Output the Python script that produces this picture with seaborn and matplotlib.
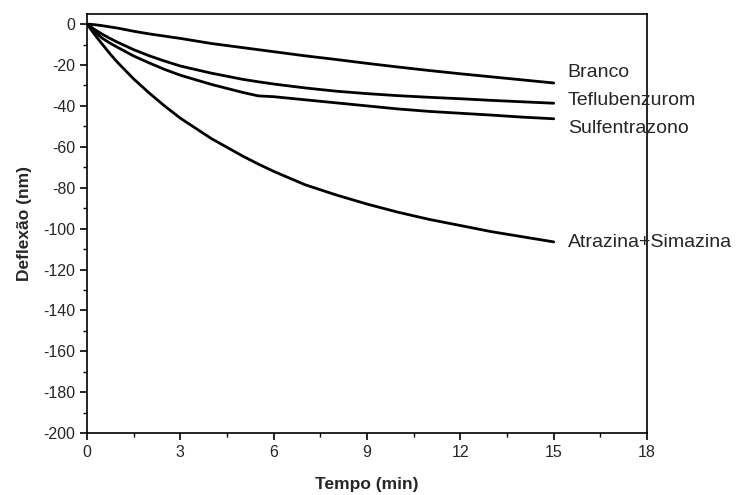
import pandas as pd
import numpy as np
from matplotlib import pyplot as plt
from matplotlib.ticker import MultipleLocator
import seaborn as sns

# values
tempo = [0, 0.25, 0.5, 0.75, 1, 1.5, 2, 2.5, 3, 4, 5, 5.5, 6, 7, 8, 9, 10, 11, 12, 13, 14, 15]
branco = [0, -0.3, -0.8, -1.4, -2, -3.5, -4.8, -5.9, -7, -9.5, -11.5, -12.5, -13.5,
          -15.5, -17.3, -19.2, -21, -22.7, -24.3, -25.8, -27.3, -28.8]
teflubenzurom = [0, -2.7, -5, -7.1, -9, -12.5, -15.5, -18.1, -20.5, -24, -27, -28.2,
                 -29.3, -31.2, -32.8, -34, -35, -35.8, -36.5, -37.3, -38, -38.7]
sulfentrazono = [0, -3.8, -7, -9.4, -11.5, -15.6, -19, -22.2, -25, -29.5, -33.4, -35.1,
                 -35.5, -37, -38.5, -40, -41.5, -42.7, -43.6, -44.5, -45.5, -46.3]
atrazina = [0, -5.2, -10, -14.7, -19, -26.8, -33.7, -40.1, -46, -56, -64.5, -68.4,
            -72, -78.5, -83.5, -88, -92, -95.5, -98.5, -101.5, -104, -106.5]

series = {
    'Branco': branco,
    'Teflubenzurom': teflubenzurom,
    'Sulfentrazono': sulfentrazono,
    'Atrazina+Simazina': atrazina,
}
label_y = {'Branco': -23.5, 'Teflubenzurom': -37.6,
           'Sulfentrazono': -50.9, 'Atrazina+Simazina': -106.6}

df = pd.concat([pd.DataFrame({'Tempo': tempo, 'Deflexao': v, 'amostra': k})
                for k, v in series.items()])

sns.set_style('ticks')
plt.rcParams['font.family'] = ['Liberation Sans', 'DejaVu Sans']
plt.rcParams['axes.unicode_minus'] = False

fig = plt.figure(figsize=(7.37, 4.95), dpi=100)
ax = fig.add_axes([0.118, 0.125, 0.76, 0.847])

sns.lineplot(data=df, x='Tempo', y='Deflexao', units='amostra', estimator=None,
             color='black', linewidth=2.0, ax=ax, legend=False)

for name, yv in label_y.items():
    ax.text(15.45, yv, name, fontsize=14, va='center', ha='left', clip_on=False)

ax.set_xlim(0, 18)
ax.set_ylim(-200, 5)
ax.xaxis.set_major_locator(MultipleLocator(3))
ax.xaxis.set_minor_locator(MultipleLocator(1.5))
ax.yaxis.set_major_locator(MultipleLocator(20))
ax.yaxis.set_minor_locator(MultipleLocator(10))
ax.tick_params(which='major', direction='out', length=5, width=1.2,
               labelsize=11.5, color='black')
ax.tick_params(which='minor', direction='out', length=3, width=1.0, color='black')

for s in ax.spines.values():
    s.set_visible(True)
    s.set_linewidth(1.2)
    s.set_color('black')

ax.set_xlabel('Tempo (min)', fontsize=12.5, fontweight='bold', labelpad=12)
ax.set_ylabel('Deflexão (nm)', fontsize=12.5, fontweight='bold', labelpad=8)

fig.savefig('out.png', dpi=100)
